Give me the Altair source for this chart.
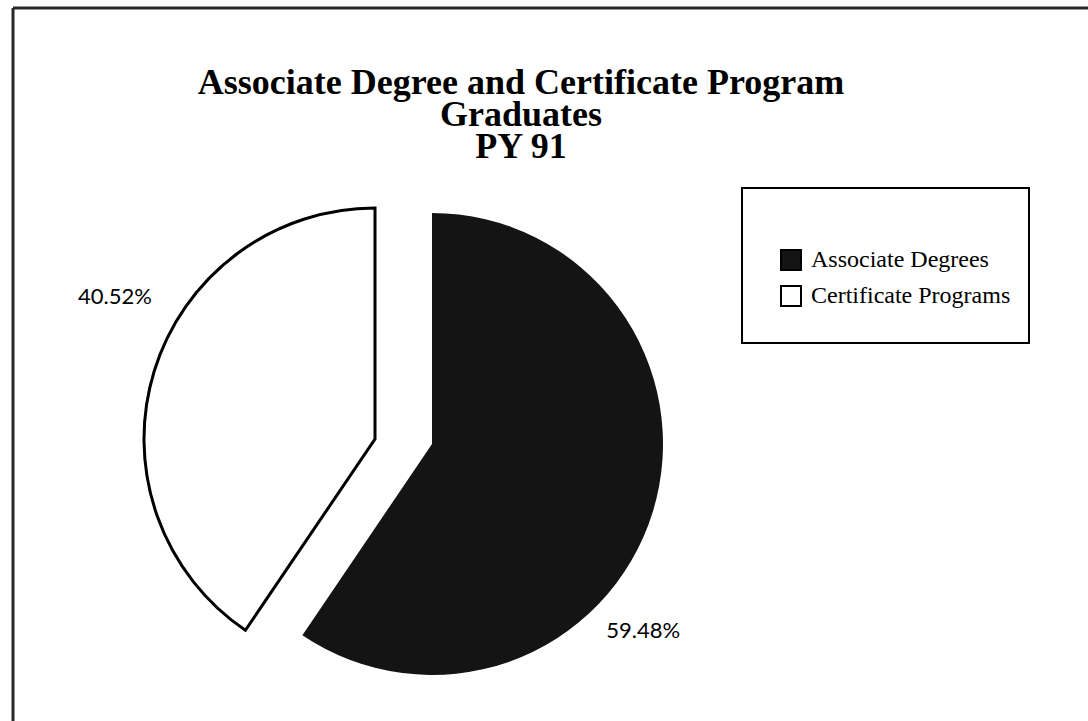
import altair as alt
import pandas as pd

categories = ["Associate Degrees", "Certificate Programs"]
shares = [59.48, 40.52]
labels = ["59.48%", "40.52%"]
fills = ["#141414", "#ffffff"]
order_idx = [0, 1]

title_lines = ["Associate Degree and Certificate Program", "Graduates", "PY 91"]

df = pd.DataFrame({"category": categories, "share": shares, "label": labels, "idx": order_idx})

W, H = 1088, 721
R = 231

base = alt.Chart(df)
theta = alt.Theta("share:Q", stack=True)
order = alt.Order("idx:Q", sort="ascending")
fill_enc = alt.Fill(
    "category:N",
    scale=alt.Scale(domain=categories, range=fills),
    legend=alt.Legend(
        title=None,
        orient="none",
        legendX=779,
        legendY=248,
        symbolType="square",
        symbolSize=400,
        symbolStrokeColor="black",
        symbolStrokeWidth=2,
        labelFont="Liberation Serif",
        labelFontSize=24,
        labelColor="black",
        labelOffset=8,
        labelLimit=400,
        rowPadding=8,
        padding=0,
    ),
)


def show(cat):
    return alt.condition(alt.datum.category == cat, alt.value(1), alt.value(0))


# exploded slices: each slice drawn around its own centre
black_arc = base.mark_arc(radius=R).encode(
    theta=theta, order=order, fill=fill_enc,
    opacity=show("Associate Degrees"),
    x=alt.value(432), y=alt.value(444),
)
white_arc = base.mark_arc(radius=R, stroke="black", strokeWidth=3, strokeJoin="miter").encode(
    theta=theta, order=order, fill=fill_enc,
    opacity=show("Certificate Programs"),
    x=alt.value(375), y=alt.value(439),
)

text_black = base.mark_text(radius=221, font="Lato", fontSize=22, color="black").encode(
    theta=theta, order=order, text="label:N",
    opacity=show("Associate Degrees"),
    x=alt.value(432), y=alt.value(566),
)
text_white = base.mark_text(radius=272, font="Lato", fontSize=22, color="black").encode(
    theta=theta, order=order, text="label:N",
    opacity=show("Certificate Programs"),
    x=alt.value(375), y=alt.value(377),
)

frame_df = pd.DataFrame({"k": [0]})
frame_top = alt.Chart(frame_df).mark_rule(color="#2a2a2a", strokeWidth=3).encode(
    x=alt.value(13), x2=alt.value(W), y=alt.value(8)
)
frame_left = alt.Chart(frame_df).mark_rule(color="#2a2a2a", strokeWidth=3).encode(
    x=alt.value(13), y=alt.value(8), y2=alt.value(H)
)
legend_box = alt.Chart(frame_df).mark_rect(fillOpacity=0, stroke="black", strokeWidth=2).encode(
    x=alt.value(742), x2=alt.value(1029), y=alt.value(188), y2=alt.value(343)
)
title_text = alt.Chart(frame_df).mark_text(
    font="Liberation Serif", fontSize=36, fontWeight="bold", lineHeight=32,
    align="center", baseline="top", color="black",
).encode(text=alt.value(title_lines), x=alt.value(521), y=alt.value(66))

chart = alt.layer(
    frame_top, frame_left, legend_box, title_text, white_arc, black_arc, text_black, text_white
).properties(
    width=W,
    height=H,
    padding=0,
    autosize="none",
    background="white",
).configure_view(stroke=None)

chart.save("out.html", embed_options={"renderer": "svg", "actions": False})
